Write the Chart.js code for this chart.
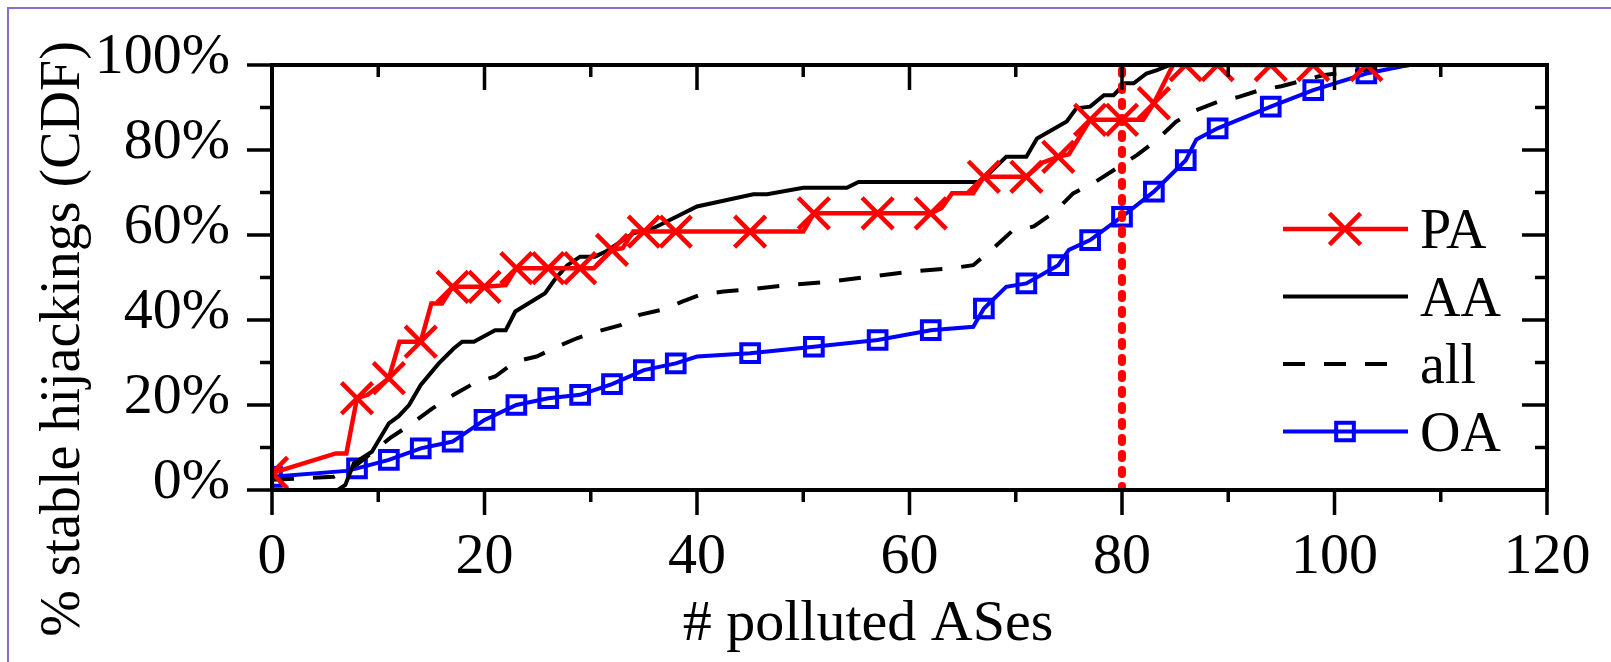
<!DOCTYPE html>
<html>
<head>
<meta charset="utf-8">
<title>Stable hijackings CDF</title>
<script src="https://cdn.jsdelivr.net/npm/chart.js@4.4.1/dist/chart.umd.min.js"></script>
<style>
  html, body { margin: 0; padding: 0; background: #fff; }
</style>
</head>
<body>
<canvas id="chart" width="1611" height="662"></canvas>
<script>
// tick labels
const xTicks = [0, 20, 40, 60, 80, 100, 120];
const yTicks = [0, 20, 40, 60, 80, 100];

// PA (red, x markers)
const paX = [0, 6, 7, 8, 9, 11, 12, 14, 15, 16, 17, 20, 22, 23, 26, 29, 30.3, 32, 33, 34, 35, 38, 45, 50, 51, 57, 62, 63, 64, 66, 67, 71, 72.5, 74, 75, 77, 80, 82, 83, 84.8, 86, 89, 94, 98, 103, 107];
const paY = [4, 8.6, 8.6, 21.6, 22.4, 26.3, 34.9, 34.9, 43.9, 43.9, 47.8, 47.8, 48.2, 52.2, 52.2, 52.2, 52.2, 56.5, 56.9, 60.8, 60.8, 60.8, 60.8, 60.8, 65.1, 65.1, 65.1, 66.3, 69.8, 69.8, 73.7, 73.7, 77, 78.4, 79, 87.1, 87.1, 87.1, 91, 100, 100, 100, 100, 100, 100, 100];

// AA (black solid)
const aaX = [0, 6.2, 6.9, 7.7, 9.4, 11, 11.9, 12.9, 14, 15.7, 17.1, 17.9, 19, 21, 22, 22.9, 25.7, 26.7, 27.8, 29, 30.4, 31.4, 34, 35.9, 40, 45.3, 46.6, 50, 54.1, 55.2, 66.6, 67.5, 69.1, 71, 72, 74.8, 75.7, 77, 78.3, 79.2, 80.3, 81.1, 82.3, 83.3, 84.5, 107];
const aaY = [0, 0, 1.2, 6.3, 9, 15.7, 17.3, 20, 24.7, 29.8, 33.3, 34.9, 34.9, 37.6, 37.6, 42, 46.3, 49.8, 52.9, 54.9, 54.9, 56.1, 60.4, 61.6, 66.7, 69.6, 69.6, 71.1, 71.1, 72.5, 72.5, 74.5, 78.4, 78.4, 82.7, 86.7, 89.8, 90.2, 92.9, 92.9, 95.7, 95.7, 98, 98.8, 100, 100];

// all (black dashed)
const allX = [0, 5.8, 8, 11.1, 13.2, 15.1, 17.1, 19, 21, 22.9, 24.9, 26.8, 28.7, 30.6, 32.8, 34.6, 36.7, 38.6, 40.4, 42.5, 44.5, 48.4, 52.4, 56.3, 60.2, 64, 66, 67.9, 69.6, 71.7, 73.7, 75.4, 77.5, 79.5, 81.4, 83.3, 85.1, 87, 89.1, 91, 93, 95, 98.9, 102.7, 107];
const allY = [2.4, 3.1, 6, 12.2, 15.7, 19.2, 22.4, 25.1, 26.7, 30.2, 31.4, 33.7, 35.7, 37.3, 38.8, 41.2, 42.4, 44.3, 46, 46.7, 47.1, 48.2, 49, 50.2, 51.4, 52.2, 52.9, 56.9, 60.8, 62, 65.5, 69.8, 72.5, 75.7, 78.8, 82.4, 86.7, 89.4, 91.4, 92.5, 94.1, 95, 97.6, 98.8, 100];

// OA (blue, square markers)
const oaX = [0, 7, 8, 11, 14, 17, 20, 23, 26, 29, 32, 35, 38, 40, 45, 51, 57, 62, 66, 67, 69.1, 71, 74, 75, 77, 80, 83, 86, 87, 89, 94, 98, 103, 107];
const oaY = [3.1, 4.5, 5.1, 7.1, 9.8, 11.4, 16.5, 20, 21.6, 22.4, 24.9, 28.2, 29.8, 31.4, 32.2, 33.7, 35.3, 37.6, 38.4, 42.7, 47.8, 48.6, 52.9, 56.5, 58.8, 64.3, 70.2, 77.6, 82.5, 85.1, 90.2, 94.1, 98, 100];

// x values where a marker is drawn
const markerX = [0, 8, 11, 14, 17, 20, 23, 26, 29, 32, 35, 38, 45, 51, 57, 62, 67, 71, 74, 77, 80, 83, 86, 89, 94, 98, 103];

const cutoffX = 80;

const serif = '"Liberation Serif", "Times New Roman", serif';
const toPoints = (xs, ys) => xs.map((v, i) => ({ x: v, y: ys[i] }));
const markerRadius = (xs, r) => ctx => markerX.includes(xs[ctx.dataIndex]) ? r : 0;

// box, inner/outer ticks (major every 20, minor every 10)
const frame = {
    id: 'frame',
    afterDraw(chart) {
        const { ctx, chartArea: a, scales: { x, y } } = chart;
        ctx.save();
        ctx.strokeStyle = '#000';
        ctx.lineWidth = 4;
        ctx.strokeRect(a.left, a.top, a.right - a.left, a.bottom - a.top);
        ctx.lineWidth = 3.5;
        ctx.beginPath();
        for (let v = 0; v <= 120; v += 10) {
            const px = x.getPixelForValue(v);
            const len = v % 20 === 0 ? 25 : 12;
            ctx.moveTo(px, a.bottom); ctx.lineTo(px, a.bottom + len);
            ctx.moveTo(px, a.top); ctx.lineTo(px, a.top + len);
        }
        for (let v = 0; v <= 100; v += 10) {
            const py = y.getPixelForValue(v);
            const len = v % 20 === 0 ? 25 : 12;
            ctx.moveTo(a.left, py); ctx.lineTo(a.left - len, py);
            ctx.moveTo(a.right, py); ctx.lineTo(a.right - len, py);
        }
        ctx.stroke();
        ctx.restore();
    }
};

// axis titles + legend inside plot + purple outer border
const decor = {
    id: 'decor',
    afterDraw(chart) {
        const ctx = chart.ctx;
        ctx.save();
        ctx.strokeStyle = '#8a6cc6';
        ctx.lineWidth = 2;
        ctx.strokeRect(8, 8, 1700, 800);

        ctx.fillStyle = '#000';
        ctx.font = '58px ' + serif;
        ctx.textAlign = 'center';
        ctx.textBaseline = 'alphabetic';
        ctx.fillText('# polluted ASes', 868, 640);

        ctx.save();
        ctx.translate(79, 339);
        ctx.rotate(-Math.PI / 2);
        ctx.font = '56px ' + serif;
        ctx.fillText('% stable hijackings (CDF)', 0, 0);
        ctx.restore();

        const sets = chart.data.datasets.filter(d => d.inLegend);
        sets.forEach((d, i) => {
            const ly = 229 + i * 67.5;
            ctx.strokeStyle = d.borderColor;
            ctx.lineWidth = d.borderWidth;
            ctx.setLineDash(d.borderDash || []);
            ctx.beginPath();
            ctx.moveTo(1283, ly);
            ctx.lineTo(d.borderDash ? 1390 : 1408, ly);
            ctx.stroke();
            ctx.setLineDash([]);
            if (d.pointStyle) {
                ctx.strokeStyle = d.borderColor;
                ctx.fillStyle = 'rgba(0,0,0,0)';
                ctx.lineWidth = d.pointBorderWidth;
                Chart.helpers.drawPoint(ctx, {
                    pointStyle: d.pointStyle, radius: d.legendRadius,
                    borderWidth: d.pointBorderWidth, rotation: 0
                }, 1345, ly);
            }
            ctx.fillStyle = '#000';
            ctx.font = '56px ' + serif;
            ctx.textAlign = 'left';
            ctx.fillText(d.label, 1420, ly + 19);
        });
        ctx.restore();
    }
};

new Chart(document.getElementById('chart').getContext('2d'), {
    type: 'line',
    data: {
        datasets: [
            {
                label: 'cutoff',
                data: [{ x: cutoffX, y: 0 }, { x: cutoffX, y: 100 }],
                borderColor: '#ff0000',
                borderWidth: 8,
                borderDash: [4, 12],
                borderCapStyle: 'round',
                pointRadius: 0,
                order: 0
            },
            {
                label: 'PA',
                inLegend: true,
                data: toPoints(paX, paY),
                borderColor: '#ff0000',
                borderWidth: 4.5,
                pointStyle: 'crossRot',
                pointRadius: markerRadius(paX, 22),
                legendRadius: 22,
                pointBorderColor: '#ff0000',
                pointBorderWidth: 4.5,
                order: 1
            },
            {
                label: 'AA',
                inLegend: true,
                data: toPoints(aaX, aaY),
                borderColor: '#000000',
                borderWidth: 4,
                pointRadius: 0,
                order: 2
            },
            {
                label: 'all',
                inLegend: true,
                data: toPoints(allX, allY),
                borderColor: '#000000',
                borderWidth: 4,
                borderDash: [22, 19],
                pointRadius: 0,
                order: 3
            },
            {
                label: 'OA',
                inLegend: true,
                data: toPoints(oaX, oaY),
                borderColor: '#0000ff',
                borderWidth: 4,
                pointStyle: 'rect',
                pointRadius: markerRadius(oaX, 12.5),
                legendRadius: 12.5,
                pointBorderColor: '#0000ff',
                pointBackgroundColor: 'rgba(0,0,0,0)',
                pointBorderWidth: 4,
                order: 4
            }
        ]
    },
    options: {
        responsive: false,
        animation: false,
        events: [],
        layout: { padding: { left: 0, top: 65, right: 64, bottom: 0 } },
        elements: { line: { tension: 0 } },
        plugins: { legend: { display: false }, tooltip: { enabled: false } },
        scales: {
            x: {
                type: 'linear',
                min: 0,
                max: 120,
                afterFit: s => { s.height = 172; s.paddingLeft = 0; s.paddingRight = 0; },
                afterBuildTicks: s => { s.ticks = xTicks.map(v => ({ value: v })); },
                grid: { display: false, drawTicks: false },
                border: { display: false },
                ticks: {
                    autoSkip: false,
                    maxRotation: 0,
                    padding: 33,
                    color: '#000',
                    font: { family: serif, size: 58 }
                }
            },
            y: {
                type: 'linear',
                min: 0,
                max: 100,
                afterFit: s => { s.width = 272; s.paddingTop = 0; s.paddingBottom = 0; },
                afterBuildTicks: s => { s.ticks = yTicks.map(v => ({ value: v })); },
                grid: { display: false, drawTicks: false },
                border: { display: false },
                ticks: {
                    autoSkip: false,
                    padding: 42,
                    labelOffset: -7,
                    color: '#000',
                    font: { family: serif, size: 58 },
                    callback: v => v + '%'
                }
            }
        }
    },
    plugins: [frame, decor]
});
</script>
</body>
</html>
